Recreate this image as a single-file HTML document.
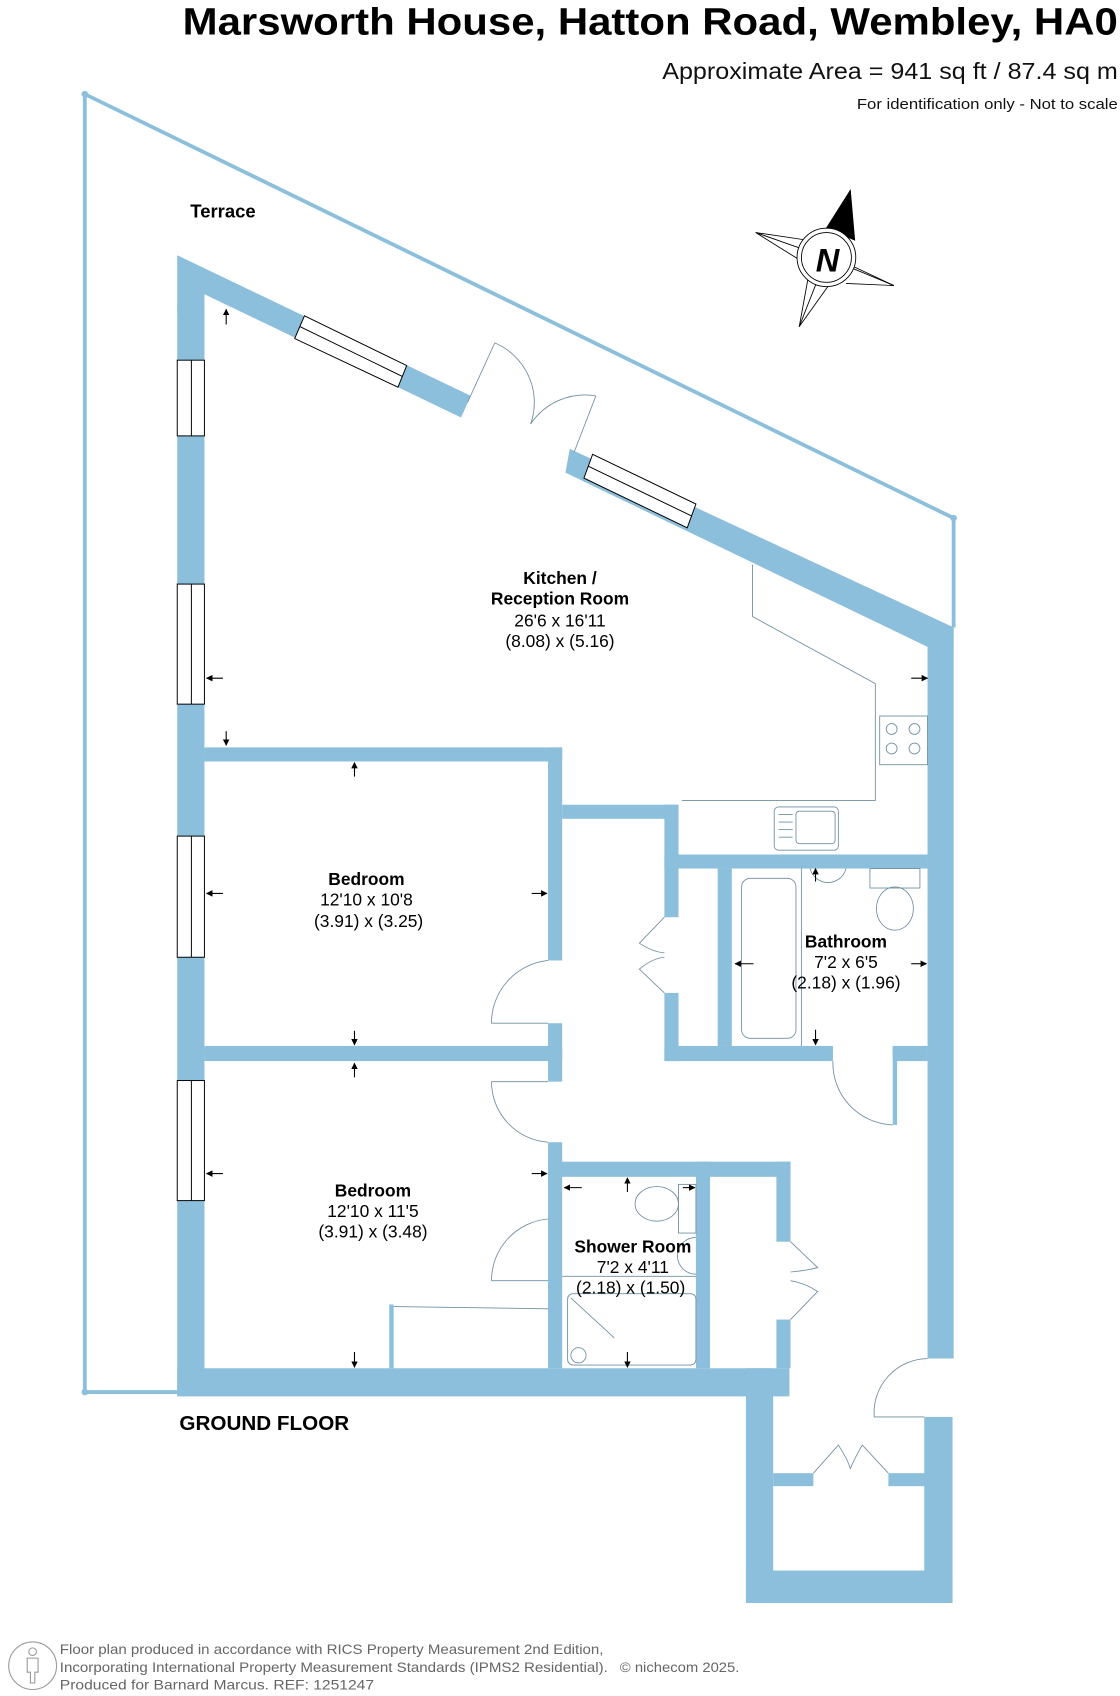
<!DOCTYPE html>
<html><head><meta charset="utf-8"><style>
html,body{margin:0;padding:0;background:#fff;width:1120px;height:1696px;overflow:hidden}
svg{display:block}
text{font-family:"Liberation Sans",Arial,sans-serif}
</style></head><body>
<svg width="1120" height="1696" viewBox="0 0 1030 1568" preserveAspectRatio="none" xmlns="http://www.w3.org/2000/svg">
<defs>
<marker id="ar" viewBox="0 0 10 10" refX="9" refY="5" markerWidth="6" markerHeight="6" orient="auto"><path d="M0,0L10,5L0,10z" fill="#000"/></marker>
</defs>
<!-- header -->
<text x="168" y="32" font-size="35" font-weight="bold" textLength="860" lengthAdjust="spacingAndGlyphs" fill="#000">Marsworth House, Hatton Road, Wembley, HA0</text>
<text x="609" y="73" font-size="21" textLength="419" lengthAdjust="spacingAndGlyphs" fill="#111">Approximate Area = 941 sq ft / 87.4 sq m</text>
<text x="788" y="101" font-size="14" textLength="240" lengthAdjust="spacingAndGlyphs" fill="#111">For identification only - Not to scale</text>

<!-- terrace outline -->
<g stroke="#8bbfdb" stroke-width="3.5" fill="none">
<polyline points="877,580 877,479 78,87 78,1287 163,1287"/>
</g>
<circle cx="78" cy="87" r="3" fill="#8bbfdb"/><circle cx="877" cy="479" r="3" fill="#8bbfdb"/><circle cx="78" cy="1287" r="3" fill="#8bbfdb"/>
<text x="175" y="201" font-size="17" font-weight="bold">Terrace</text>

<!-- compass -->
<g stroke="#000" stroke-width="0.8" fill="#fff">
<polygon points="782,176 760,238 695,215 760,238 735,302 760,238 822,264 760,238"/>
<line x1="695" y1="215" x2="742" y2="222"/><line x1="695" y1="215" x2="738" y2="242"/>
<line x1="822" y1="264" x2="784" y2="246"/><line x1="822" y1="264" x2="778" y2="262"/>
<line x1="735" y1="302" x2="743" y2="258"/><line x1="735" y1="302" x2="762" y2="264"/>
<polygon points="782,176 786,222 760,211" fill="#000"/>
<circle cx="760" cy="238" r="27"/><circle cx="760" cy="238" r="23"/>
</g>
<text x="761" y="251" font-size="30" font-weight="bold" font-style="italic" text-anchor="middle">N</text>

<!-- walls -->
<g fill="#8bbfdb">
<rect x="163" y="280" width="25" height="1010"/>
<polygon points="163,236 433,366 424,386 188,272 188,290 163,290"/>
<polygon points="524,415 877,580 877,600 853,598 520,437"/>
<rect x="853" y="580" width="24" height="676"/>
<rect x="850" y="1310" width="26" height="172"/>
<rect x="163" y="1265" width="563" height="26"/>
<rect x="686" y="1265" width="25" height="217"/>
<rect x="686" y="1452" width="190" height="30"/>
<rect x="711" y="1362" width="37" height="12"/>
<rect x="817" y="1362" width="36" height="12"/>
<rect x="188" y="691" width="329" height="13"/>
<rect x="504" y="691" width="13" height="197"/>
<rect x="188" y="967" width="329" height="14"/>
<rect x="504" y="946" width="13" height="54"/>
<rect x="504" y="1056" width="13" height="209"/>
<rect x="517" y="744" width="107" height="13"/>
<rect x="611" y="744" width="13" height="104"/>
<rect x="611" y="918" width="13" height="63"/>
<rect x="611" y="790" width="242" height="13"/>
<rect x="660" y="803" width="13" height="164"/>
<rect x="611" y="967" width="155" height="14"/>
<rect x="821" y="967" width="32" height="14"/>
<rect x="821" y="967" width="4" height="73"/>
<rect x="504" y="1074" width="223" height="14"/>
<rect x="640" y="1074" width="13" height="191"/>
<rect x="714" y="1074" width="13" height="74"/>
<rect x="714" y="1220" width="13" height="45"/>
<rect x="358" y="1206" width="4" height="59"/>
</g>

<!-- windows -->
<g fill="#fff" stroke="#000" stroke-width="0.9">
<rect x="163" y="333" width="25" height="70"/><line x1="176" y1="333" x2="176" y2="403"/>
<rect x="163" y="540" width="25" height="111"/><line x1="176" y1="540" x2="176" y2="651"/>
<rect x="163" y="773" width="25" height="112"/><line x1="176" y1="773" x2="176" y2="885"/>
<rect x="163" y="999" width="25" height="111"/><line x1="176" y1="999" x2="176" y2="1110"/>
<polygon points="280,292 374,338 366,358 271,313"/><line x1="276" y1="302" x2="370" y2="348"/>
<polygon points="545,420 640,466 632,488 537,442"/><line x1="541" y1="431" x2="636" y2="477"/>
</g>

<!-- doors & fixtures -->
<g fill="none" stroke="#6f8fa0" stroke-width="0.8">
<line x1="430" y1="372" x2="455" y2="317"/><path d="M455,317 A60,60 0 0 1 488,392"/>
<line x1="528" y1="418" x2="548" y2="366"/><path d="M548,366 A60,60 0 0 0 488,392"/>
<line x1="452" y1="946" x2="504" y2="946"/><path d="M452,946 A58,58 0 0 1 504,888"/>
<line x1="452" y1="1000" x2="504" y2="1000"/><path d="M452,1000 A56,56 0 0 0 504,1056"/>
<line x1="452" y1="1184" x2="504" y2="1184"/><path d="M452,1184 A57,57 0 0 1 504,1127"/>
<path d="M766,981 A57,57 0 0 0 821,1040"/>
<path d="M611,848 L588,872 Q600,880 611,881 M611,918 L588,896 Q600,886 611,885"/>
<path d="M727,1148 L752,1172 Q740,1175 727,1176 M727,1220 L752,1194 Q740,1186 727,1184"/>
<path d="M853,1256 A50,50 0 0 0 804,1310 L850,1310"/>
<path d="M748,1362 L771,1336 Q780,1350 782,1358 M817,1362 L793,1336 Q785,1350 782,1358"/>
<polyline points="692,522 692,570 805,632 805,740 627,740"/>
<rect x="809" y="662" width="44" height="45"/>
<circle cx="820" cy="674" r="5"/><circle cx="841" cy="674" r="5"/><circle cx="820" cy="692" r="5"/><circle cx="841" cy="692" r="5"/>
<rect x="712" y="746" width="59" height="40" rx="4"/><rect x="732" y="750" width="36" height="30" rx="3"/>
<line x1="716" y1="753" x2="729" y2="753"/><line x1="716" y1="760" x2="729" y2="760"/><line x1="716" y1="767" x2="729" y2="767"/><line x1="716" y1="774" x2="729" y2="774"/>
<rect x="682" y="812" width="50" height="148" rx="8"/><line x1="737" y1="803" x2="737" y2="967"/>
<path d="M745,803 A17,17 0 0 0 778,803"/>
<rect x="800" y="803" width="46" height="18"/><ellipse cx="823" cy="840" rx="17" ry="20"/>
<ellipse cx="604" cy="1113" rx="20" ry="16"/><rect x="624" y="1095" width="16" height="45"/>
<path d="M640,1144 A17,17 0 0 0 640,1178"/>
<line x1="517" y1="1180" x2="640" y2="1180"/>
<rect x="522" y="1196" width="118" height="66" rx="5"/><line x1="525" y1="1200" x2="565" y2="1237"/>
<circle cx="532" cy="1253" r="7"/>
<line x1="362" y1="1208" x2="504" y2="1210"/>
</g>

<!-- arrows -->
<g stroke="#000" stroke-width="1" marker-end="url(#ar)">
<line x1="208" y1="300" x2="208" y2="286"/>
<line x1="205" y1="627" x2="190" y2="627"/>
<line x1="208" y1="676" x2="208" y2="689"/>
<line x1="838" y1="627" x2="853" y2="627"/>
<line x1="326" y1="718" x2="326" y2="705"/>
<line x1="205" y1="826" x2="190" y2="826"/>
<line x1="489" y1="826" x2="503" y2="826"/>
<line x1="326" y1="953" x2="326" y2="966"/>
<line x1="326" y1="996" x2="326" y2="983"/>
<line x1="205" y1="1085" x2="190" y2="1085"/>
<line x1="489" y1="1085" x2="503" y2="1085"/>
<line x1="326" y1="1250" x2="326" y2="1264"/>
<line x1="693" y1="891" x2="676" y2="891"/>
<line x1="838" y1="891" x2="852" y2="891"/>
<line x1="750" y1="815" x2="750" y2="803"/>
<line x1="750" y1="952" x2="750" y2="966"/>
<line x1="535" y1="1098" x2="519" y2="1098"/>
<line x1="577" y1="1102" x2="577" y2="1089"/>
<line x1="628" y1="1098" x2="639" y2="1098"/>
<line x1="577" y1="1250" x2="577" y2="1264"/>
</g>

<!-- labels -->
<g font-size="16" text-anchor="middle" fill="#000">
<text x="515" y="540" font-weight="bold">Kitchen /</text>
<text x="515" y="559" font-weight="bold">Reception Room</text>
<text x="515" y="579">26'6 x 16'11</text>
<text x="515" y="598">(8.08) x (5.16)</text>
<text x="337" y="818" font-weight="bold">Bedroom</text>
<text x="337" y="837">12'10 x 10'8</text>
<text x="339" y="857">(3.91) x (3.25)</text>
<text x="778" y="876" font-weight="bold">Bathroom</text>
<text x="778" y="895">7'2 x 6'5</text>
<text x="778" y="914">(2.18) x (1.96)</text>
<text x="343" y="1106" font-weight="bold">Bedroom</text>
<text x="343" y="1125">12'10 x 11'5</text>
<text x="343" y="1144">(3.91) x (3.48)</text>
<text x="582" y="1158" font-weight="bold">Shower Room</text>
<text x="582" y="1177">7'2 x 4'11</text>
<text x="580" y="1196">(2.18) x (1.50)</text>
</g>
<text x="165" y="1322" font-size="19" font-weight="bold">GROUND FLOOR</text>

<!-- footer -->
<circle cx="30" cy="1540" r="22" fill="none" stroke="#999" stroke-width="1"/>
<circle cx="30" cy="1527" r="3.5" fill="none" stroke="#999"/>
<path d="M25,1533 h10 v13 h-3 v10 h-4 v-10 h-3z" fill="none" stroke="#999"/>
<g font-size="13" fill="#666">
<text x="55" y="1529" textLength="500" lengthAdjust="spacingAndGlyphs">Floor plan produced in accordance with RICS Property Measurement 2nd Edition,</text>
<text x="55" y="1546" textLength="504" lengthAdjust="spacingAndGlyphs">Incorporating International Property Measurement Standards (IPMS2 Residential).</text>
<text x="570" y="1546" textLength="110" lengthAdjust="spacingAndGlyphs">© nichecom 2025.</text>
<text x="55" y="1562" textLength="289" lengthAdjust="spacingAndGlyphs">Produced for Barnard Marcus.   REF: 1251247</text>
</g>
</svg>
</body></html>
